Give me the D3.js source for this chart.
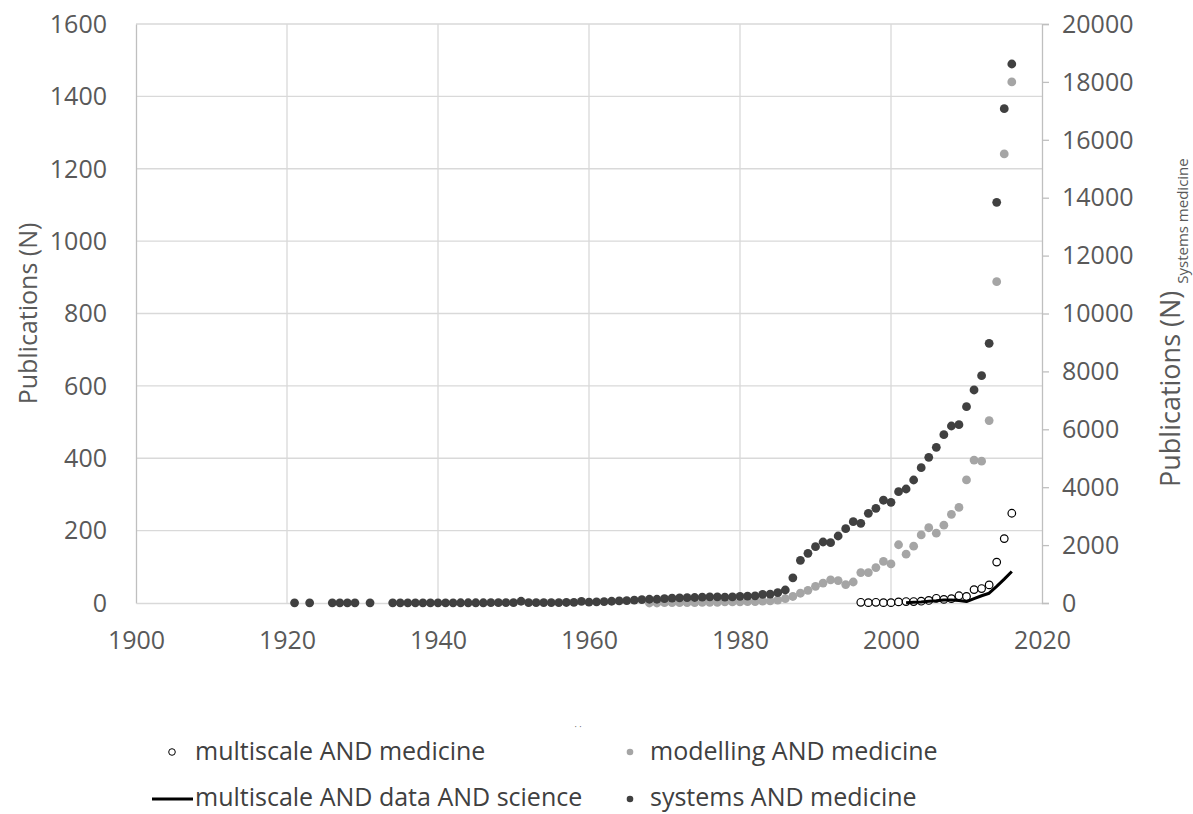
<!DOCTYPE html>
<html>
<head>
<meta charset="utf-8">
<script src="https://cdn.jsdelivr.net/npm/d3@7"></script>
<style>
  html, body { margin: 0; padding: 0; background: #fff; }
  svg { display: block; }
  text { font-family: "Open Sans", "Noto Sans", sans-serif; }
</style>
</head>
<body>
<svg id="chart" width="1193" height="814"></svg>
<script>
// ---------------- DATA ----------------
const xTicks = [1900, 1920, 1940, 1960, 1980, 2000, 2020];
const leftTicks = [0, 200, 400, 600, 800, 1000, 1200, 1400, 1600];
const rightTicks = [0, 2000, 4000, 6000, 8000, 10000, 12000, 14000, 16000, 18000, 20000];

// multiscale AND medicine (left axis)
const multiscaleYears  = [1996, 1997, 1998, 1999, 2000, 2001, 2002, 2003, 2004, 2005, 2006, 2007, 2008, 2009, 2010, 2011, 2012, 2013, 2014, 2015, 2016];
const multiscaleValues = [2, 1, 2, 1, 1, 3, 4, 4, 5, 7, 13, 10, 12, 20, 18, 37, 40, 50, 113, 178, 248];

// modelling AND medicine (left axis)
const modellingYears  = [1968, 1969, 1970, 1971, 1972, 1973, 1974, 1975, 1976, 1977, 1978, 1979, 1980, 1981, 1982, 1983, 1984, 1985, 1986, 1987, 1988, 1989, 1990, 1991, 1992, 1993, 1994, 1995, 1996, 1997, 1998, 1999, 2000, 2001, 2002, 2003, 2004, 2005, 2006, 2007, 2008, 2009, 2010, 2011, 2012, 2013, 2014, 2015, 2016];
const modellingValues = [0, 0, 1, 1, 1, 1, 1, 2, 2, 2, 3, 3, 3, 4, 4, 5, 6, 8, 12, 18, 27, 35, 46, 55, 64, 62, 51, 58, 84, 84, 98, 115, 108, 161, 135, 157, 188, 208, 193, 215, 245, 264, 340, 395, 392, 504, 888, 1241, 1440];

// multiscale AND data AND science (left axis, line)
const dataYears  = [2002, 2003, 2004, 2005, 2006, 2007, 2008, 2009, 2010, 2011, 2012, 2013, 2014, 2015, 2016];
const dataValues = [1, 2, 3, 5, 6, 8, 8, 7, 4, 12, 20, 27, 46, 66, 87];

// systems AND medicine (right axis)
const systemsYears = [1921, 1923, 1926, 1927, 1928, 1929, 1931,
  1934, 1935, 1936, 1937, 1938, 1939, 1940, 1941, 1942, 1943, 1944, 1945, 1946, 1947, 1948, 1949, 1950,
  1951, 1952, 1953, 1954, 1955, 1956, 1957, 1958, 1959, 1960, 1961, 1962, 1963, 1964, 1965, 1966, 1967,
  1968, 1969, 1970, 1971, 1972, 1973, 1974, 1975, 1976, 1977, 1978, 1979, 1980, 1981, 1982, 1983, 1984,
  1985, 1986, 1987, 1988, 1989, 1990, 1991, 1992, 1993, 1994, 1995, 1996, 1997, 1998, 1999, 2000, 2001,
  2002, 2003, 2004, 2005, 2006, 2007, 2008, 2009, 2010, 2011, 2012, 2013, 2014, 2015, 2016];
const systemsValues = [5, 5, 5, 5, 5, 5, 5,
  5, 5, 5, 5, 5, 5, 5, 5, 5, 8, 8, 8, 8, 10, 10, 10, 10,
  60, 12, 12, 14, 15, 16, 18, 20, 55, 30, 40, 50, 60, 70, 80, 100, 120,
  130, 130, 150, 170, 180, 185, 190, 200, 215, 210, 205, 215, 230, 240, 245, 300, 310,
  357, 449, 870, 1475, 1716, 1945, 2107, 2083, 2314, 2567, 2808, 2753, 3098, 3271, 3550, 3478, 3845,
  3938, 4249, 4674, 5033, 5379, 5814, 6114, 6160, 6780, 7358, 7852, 8970, 13841, 17075, 18618];

const legendItems = ["multiscale AND medicine", "modelling AND medicine", "multiscale AND data AND science", "systems AND medicine"];

// ---------------- LAYOUT ----------------
const svg = d3.select("#chart");
const X0 = 136, X1 = 1042, Y0 = 603, Y1 = 24;
const FS = 25; // tick / title font size
const x = d3.scaleLinear().domain([1900, 2020]).range([X0, X1]);
const yL = d3.scaleLinear().domain([0, 1600]).range([Y0, Y1]);
const yR = d3.scaleLinear().domain([0, 20000]).range([Y0, Y1]);

const gridColor = "#d9d9d9";
const textColor = "#595959";

// gridlines
svg.append("g").selectAll("line").data(leftTicks.filter(d => d > 0)).join("line")
  .attr("x1", X0).attr("x2", X1).attr("y1", d => yL(d)).attr("y2", d => yL(d))
  .attr("stroke", gridColor).attr("stroke-width", 1.3);
svg.append("g").selectAll("line").data(xTicks.filter(d => d > 1900 && d < 2020)).join("line")
  .attr("x1", d => x(d)).attr("x2", d => x(d)).attr("y1", Y1).attr("y2", Y0)
  .attr("stroke", gridColor).attr("stroke-width", 1.3);

// axes
const gL = svg.append("g").attr("transform", `translate(${X0},0)`)
  .call(d3.axisLeft(yL).tickValues(leftTicks).tickSize(0).tickFormat(d3.format("d")));
gL.select(".domain").attr("stroke", "#bfbfbf").attr("stroke-width", 1.3);
gL.selectAll("text").attr("x", -29).attr("dy", "0.33em")
  .attr("fill", textColor).style("font-size", FS + "px").style("font-family", '"Open Sans", sans-serif');

const gB = svg.append("g").attr("transform", `translate(0,${Y0})`)
  .call(d3.axisBottom(x).tickValues(xTicks).tickSize(0).tickFormat(d3.format("d")));
gB.select(".domain").attr("stroke", gridColor).attr("stroke-width", 1.3);
gB.selectAll("text").attr("y", 46).attr("dy", 0)
  .attr("fill", textColor).style("font-size", FS + "px").style("font-family", '"Open Sans", sans-serif');

const gR = svg.append("g").attr("transform", `translate(${X1},0)`)
  .call(d3.axisRight(yR).tickValues(rightTicks).tickSize(7).tickFormat(d3.format("d")));
gR.select(".domain").attr("stroke", "#bfbfbf").attr("stroke-width", 1.3);
gR.selectAll(".tick line").attr("stroke", "#bfbfbf").attr("stroke-width", 1.3);
gR.selectAll("text").attr("x", 20).attr("dy", "0.33em")
  .attr("fill", textColor).style("font-size", FS + "px").style("font-family", '"Open Sans", sans-serif');

// axis titles
svg.append("text")
  .attr("transform", `translate(37,${(Y0 + Y1) / 2}) rotate(-90)`)
  .attr("text-anchor", "middle").attr("fill", textColor).style("font-size", FS + "px")
  .text("Publications (N)");

const rt = svg.append("text")
  .attr("transform", `translate(1180,487) rotate(-90)`)
  .attr("text-anchor", "start").attr("fill", textColor).style("font-size", "27px");
rt.append("tspan").text("Publications (N) ");
rt.append("tspan").attr("dy", 8).style("font-size", "15px").text("Systems medicine");

// tiny clipped axis-title remnant
svg.append("text").attr("x", 578).attr("y", 730).attr("text-anchor", "middle")
  .attr("fill", textColor).style("font-size", "9px").text("· ·");

// ---------------- SERIES ----------------
const R = 4.4;
// modelling AND medicine
svg.append("g").selectAll("circle").data(modellingYears.map((y, i) => [y, modellingValues[i]])).join("circle")
  .attr("cx", d => x(d[0])).attr("cy", d => yL(d[1])).attr("r", R).attr("fill", "#a5a5a5");
// multiscale AND medicine
svg.append("g").selectAll("circle").data(multiscaleYears.map((y, i) => [y, multiscaleValues[i]])).join("circle")
  .attr("cx", d => x(d[0])).attr("cy", d => yL(d[1])).attr("r", R - 0.6)
  .attr("fill", "#fff").attr("stroke", "#000").attr("stroke-width", 1.2);
// multiscale AND data AND science
svg.append("path").datum(dataYears.map((y, i) => [y, dataValues[i]]))
  .attr("d", d3.line().x(d => x(d[0])).y(d => yL(d[1])))
  .attr("fill", "none").attr("stroke", "#000").attr("stroke-width", 3).attr("stroke-linejoin", "round");
// systems AND medicine
svg.append("g").selectAll("circle").data(systemsYears.map((y, i) => [y, systemsValues[i]])).join("circle")
  .attr("cx", d => x(d[0])).attr("cy", d => yR(d[1])).attr("r", R).attr("fill", "#404040");

// ---------------- LEGEND ----------------
const lg = svg.append("g");
const legColor = "#404040";
function legText(tx, ty, s) {
  lg.append("text").attr("x", tx).attr("y", ty)
    .attr("fill", legColor).style("font-size", "25px").text(s);
}
lg.append("circle").attr("cx", 172).attr("cy", 752).attr("r", 3.3).attr("fill", "#fff").attr("stroke", "#000").attr("stroke-width", 1);
legText(195, 760, legendItems[0]);
lg.append("circle").attr("cx", 630).attr("cy", 752).attr("r", 3.3).attr("fill", "#a5a5a5");
legText(650, 760, legendItems[1]);
lg.append("line").attr("x1", 152).attr("x2", 193).attr("y1", 799).attr("y2", 799).attr("stroke", "#000").attr("stroke-width", 3);
legText(195, 806, legendItems[2]);
lg.append("circle").attr("cx", 630).attr("cy", 799).attr("r", 3.3).attr("fill", "#404040");
legText(650, 806, legendItems[3]);
</script>
</body>
</html>
